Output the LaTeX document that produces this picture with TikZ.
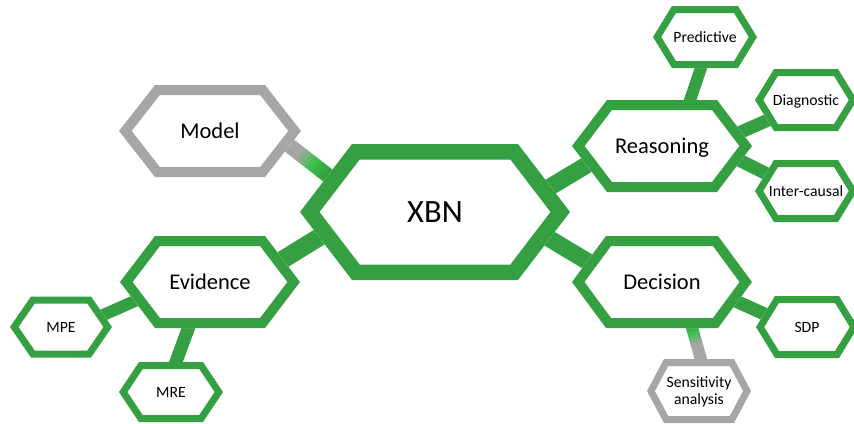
\documentclass[tikz,border=0pt]{standalone}
\usepackage{fontspec}
\setmainfont{Carlito}
\usetikzlibrary{calc}
\definecolor{mgreen}{RGB}{52,160,66}
\definecolor{mgray}{RGB}{166,166,166}
\definecolor{bgreen}{RGB}{60,192,76}
\pgfdeclarelayer{bg}
\pgfdeclarelayer{mid}
\pgfsetlayers{bg,mid,main}
\tikzset{
  hugetext/.style={font=\fontsize{32.5}{39}\selectfont, text=black, inner sep=0pt, text height=20.9pt, text depth=0pt},
  bigtext/.style={font=\fontsize{22.5}{27}\selectfont, text=black, inner sep=0pt, text height=14.5pt, text depth=0pt},
  smalltext/.style={font=\fontsize{15.7}{16.7}\selectfont, text=black, inner sep=0pt, align=center, text height=10.1pt, text depth=0pt},
  twolines/.style={text height=26.8pt, text depth=0pt},
  greenframe/.style={draw=mgreen, line join=miter},
  grayframe/.style={draw=mgray, line join=miter},
  conn/.style={draw=mgreen, line cap=butt},
}
% #1 node, #2 half width, #3 half top width, #4 half height, #5 style (with doubled line width)
\newcommand{\hexframe}[5]{%
  \begin{pgfonlayer}{mid}
  \begin{scope}[shift={(#1.center)}]
    \path[fill=white] (-#2,0) -- (-#3,-#4) -- (#3,-#4) -- (#2,0) -- (#3,#4) -- (-#3,#4) -- cycle;
    \begin{scope}
      \clip (-#2,0) -- (-#3,-#4) -- (#3,-#4) -- (#2,0) -- (#3,#4) -- (-#3,#4) -- cycle;
      \draw[#5] (-#2,0) -- (-#3,-#4) -- (#3,-#4) -- (#2,0) -- (#3,#4) -- (-#3,#4) -- cycle;
    \end{scope}
  \end{scope}
  \end{pgfonlayer}}
\begin{document}
\begin{tikzpicture}[x=1pt,y=-1pt]
\useasboundingbox (0,0) rectangle (854,423);
% nodes
\node[hugetext] (xbn) at (435,212) {XBN};
\node[bigtext] (model) at (210,131) {Model};
\node[bigtext] (evid) at (210,282) {Evidence};
\node[bigtext] (reason) at (662,146) {Reasoning};
\node[bigtext] (decis) at (662,282) {Decision};
\node[smalltext] (pred) at (705,37) {Predictive};
\node[smalltext] (diag) at (806,100) {Diagnostic};
\node[smalltext] (inter) at (806,191) {Inter-causal};
\node[smalltext] (sdp) at (807,327) {SDP};
\node[smalltext] (mpe) at (61,327) {MPE};
\node[smalltext] (mre) at (171,392) {MRE};
\node[smalltext, twolines] (sens) at (699,391) {Sensitivity\\analysis};
% connector end points
\coordinate (mA) at ([shift={(50,-8.4)}]model.center);
\coordinate (mB) at ([shift={(-85,-19.2)}]xbn.center);
\coordinate (sA) at ([shift={(22.2,18)}]decis.center);
\coordinate (sB) at ([shift={(7.8,-11)}]sens.center);
\begin{pgfonlayer}{bg}
  \draw[conn, line width=17] ([shift={(65,5)}]xbn.center) -- ([shift={(-42,-1)}]reason.center);
  \draw[conn, line width=17] ([shift={(65,-3)}]xbn.center) -- ([shift={(-42,-1)}]decis.center);
  \draw[conn, line width=18] ([shift={(-75,0)}]xbn.center) -- ([shift={(30,4)}]evid.center);
  \draw[conn, line width=12] ([shift={(18,-16)}]reason.center) -- ([shift={(2,13)}]pred.center);
  \draw[conn, line width=13] ([shift={(38,4)}]reason.center) -- ([shift={(-6,6)}]diag.center);
  \draw[conn, line width=13] ([shift={(38,-5.5)}]reason.center) -- ([shift={(-6,-0.5)}]inter.center);
  \draw[conn, line width=13] ([shift={(38,3)}]decis.center) -- ([shift={(-7,3)}]sdp.center);
  \draw[conn, line width=12] ([shift={(-40,3.5)}]evid.center) -- ([shift={(-1,7)}]mpe.center);
  \draw[conn, line width=13] ([shift={(-11.2,18)}]evid.center) -- ([shift={(-3.6,-7)}]mre.center);
  % Model -- XBN: grey to green
  \foreach \i in {0,...,39} {
    \pgfmathsetmacro\ta{\i/40}
    \pgfmathsetmacro\tb{(\i+1.3)/40}
    \pgfmathsetmacro\tm{(\i+0.5)/40}
    \pgfmathsetmacro\pa{min(100,max(0,(\tm-0.44)/0.15*100))}
    \pgfmathsetmacro\pb{min(100,max(0,(\tm-0.59)/0.155*100))}
    \colorlet{segcol}{bgreen!\pa!mgray}
    \colorlet{segcol}{mgreen!\pb!segcol}
    \draw[line width=15, draw=segcol, line cap=butt] ($(mA)!\ta!(mB)$) -- ($(mA)!\tb!(mB)$);
  }
  % Decision -- Sensitivity: green to grey
  \foreach \i in {0,...,39} {
    \pgfmathsetmacro\ta{\i/40}
    \pgfmathsetmacro\tb{(\i+1.3)/40}
    \pgfmathsetmacro\tm{(\i+0.5)/40}
    \pgfmathsetmacro\pa{min(100,max(0,(\tm-0.30)/0.11*100))}
    \pgfmathsetmacro\pb{min(100,max(0,(\tm-0.41)/0.15*100))}
    \colorlet{segcol}{bgreen!\pa!mgreen}
    \colorlet{segcol}{mgray!\pb!segcol}
    \draw[line width=12, draw=segcol, line cap=butt] ($(sA)!\ta!(sB)$) -- ($(sA)!\tb!(sB)$);
  }
\end{pgfonlayer}
% frames
\hexframe{xbn}{135}{83}{68}{greenframe, line width=31}
\hexframe{model}{91}{55}{46}{grayframe, line width=20}
\hexframe{evid}{90}{55}{46}{greenframe, line width=20}
\hexframe{reason}{90}{55}{46}{greenframe, line width=20}
\hexframe{decis}{90}{56}{46}{greenframe, line width=20}
\hexframe{pred}{52}{33}{31}{greenframe, line width=14}
\hexframe{diag}{51}{32}{31}{greenframe, line width=14}
\hexframe{inter}{51}{32}{31}{greenframe, line width=14}
\hexframe{sdp}{51}{32}{31}{greenframe, line width=14}
\hexframe{mpe}{51}{30}{30.5}{greenframe, line width=14}
\hexframe{mre}{52}{32}{30}{greenframe, line width=14}
\hexframe{sens}{52}{35}{32}{grayframe, line width=14}
\end{tikzpicture}
\end{document}
